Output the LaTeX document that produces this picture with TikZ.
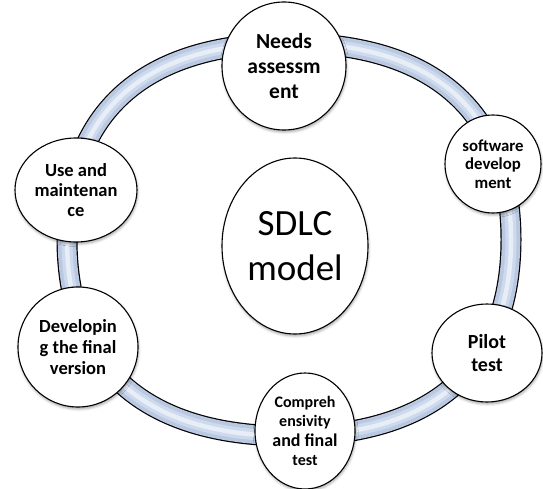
\documentclass[tikz,border=0pt]{standalone}
\usepackage{fontspec}
\setmainfont{Carlito}
\usetikzlibrary{shapes.geometric,shadows.blur}

\definecolor{ringedge}{RGB}{186,201,225}
\definecolor{ringmid}{RGB}{205,217,236}
\definecolor{ringhi}{RGB}{232,238,248}

\tikzset{
  phase/.style={ellipse, draw=black, line width=1.1pt, fill=white,
    inner sep=0pt, align=center,
    blur shadow={shadow xshift=0.6pt, shadow yshift=-2pt,
      shadow blur radius=2.5pt, shadow opacity=35}},
  boldsize/.style 2 args={font=\bfseries\fontsize{#1}{#2}\selectfont},
  plainsize/.style 2 args={font=\fontsize{#1}{#2}\selectfont},
}

\begin{document}
\begin{tikzpicture}[x=1pt, y=-1pt]
  \useasboundingbox (0,0) rectangle (543,489);

  % the cycle ring: a tube built from stacked strokes
  \foreach \w/\c in {21/black, 18.6/ringedge, 11/ringmid, 4.5/ringhi}{
    \draw[line width=\w pt, color=\c]
      (289,43) .. controls (433.3,43) and (511,111.8) .. (511,239.5)
               .. controls (511,367.2) and (433.3,436) .. (289,436)
               .. controls (144.7,436) and (67,367.2) .. (67,239.5)
               .. controls (67,111.8) and (144.7,43) .. cycle;
  }

  % phases of the cycle
  \node[phase, boldsize={21.5}{25}, minimum width=124pt, minimum height=128pt]
    (needs) at (284,66) {Needs\\assessm\\ent};
  \node[phase, boldsize={16.8}{18.5}, minimum width=96pt, minimum height=98pt]
    (soft) at (493,164) {software\\develop\\ment};
  \node[phase, boldsize={20}{23.5}, minimum width=110pt, minimum height=98pt]
    (pilot) at (487,353) {Pilot\\test};
  \node[phase, boldsize={16}{19.5}, minimum width=100pt, minimum height=116pt]
    (comp) at (305,431)
    {Compreh\\ensivity\\{\fontsize{18}{22}\selectfont and final}\\test};
  \node[phase, boldsize={18.5}{21}, minimum width=120pt, minimum height=120pt]
    (dev) at (78,347) {Developin\\g the final\\version};
  \node[phase, boldsize={18.5}{20}, minimum width=122pt, minimum height=104pt]
    (use) at (76,190) {Use and\\maintenan\\ce};

  % centre
  \node[phase, plainsize={37}{45}, minimum width=146pt, minimum height=176pt]
    (sdlc) at (295,246) {SDLC\\model};
\end{tikzpicture}
\end{document}
